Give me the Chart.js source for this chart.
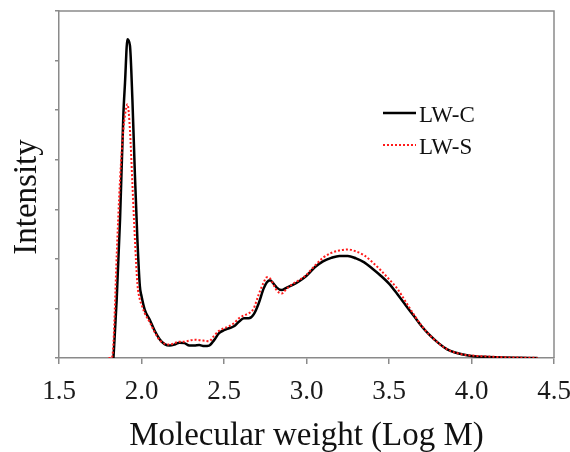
<!DOCTYPE html>
<html lang="en">
<head>
    <meta charset="UTF-8">
    <title>Molecular weight distribution</title>
    <script src="https://cdn.jsdelivr.net/npm/chart.js"></script>
    <style>
        body { margin: 0; background: #fff; }
        #wrap { width: 570px; height: 452px; }
    </style>
</head>
<body>
    <div id="wrap"><canvas id="mwChart" width="570" height="452"></canvas></div>
    <script>
        // Log M values shared by both curves
        const logM = [1.80, 1.82, 1.83, 1.85, 1.87, 1.89, 1.90, 1.915, 1.93, 1.945, 1.96, 1.975, 1.99, 2.00,
            2.02, 2.05, 2.08, 2.11, 2.14, 2.17, 2.20, 2.23, 2.26, 2.29, 2.32, 2.35, 2.38, 2.41, 2.44, 2.47,
            2.50, 2.53, 2.56, 2.59, 2.62, 2.65, 2.68, 2.71, 2.74, 2.76, 2.78, 2.80, 2.82, 2.85, 2.88, 2.92,
            2.96, 3.00, 3.05, 3.10, 3.15, 3.20, 3.25, 3.30, 3.35, 3.40, 3.45, 3.50, 3.55, 3.60, 3.65, 3.70,
            3.75, 3.80, 3.85, 3.90, 3.95, 4.00, 4.10, 4.20, 4.30, 4.40];

        const lwC = [null, null, 0, 1.2, 2.8, 4.9, 5.55, 6.43, 6.3, 5.2, 3.7, 2.4, 1.45, 1.25,
            0.97, 0.77, 0.55, 0.38, 0.28, 0.25, 0.27, 0.31, 0.30, 0.25, 0.25, 0.26, 0.24, 0.25, 0.36, 0.50,
            0.56, 0.60, 0.64, 0.73, 0.80, 0.80, 0.88, 1.10, 1.40, 1.53, 1.57, 1.50, 1.42, 1.37, 1.42, 1.48,
            1.56, 1.66, 1.83, 1.95, 2.02, 2.06, 2.06, 2.01, 1.93, 1.80, 1.66, 1.50, 1.29, 1.07, 0.85, 0.63,
            0.45, 0.30, 0.18, 0.11, 0.07, 0.04, 0.02, 0.01, 0.005, 0];

        const lwS = [0, 0, 0.3, 2.1, 3.6, 4.6, 4.9, 5.12, 4.6, 3.5, 2.4, 1.5, 1.18, 1.08,
            0.90, 0.72, 0.52, 0.36, 0.29, 0.27, 0.30, 0.33, 0.33, 0.35, 0.37, 0.36, 0.35, 0.34, 0.45, 0.55,
            0.60, 0.64, 0.70, 0.80, 0.86, 0.90, 1.00, 1.28, 1.52, 1.63, 1.60, 1.48, 1.36, 1.30, 1.40, 1.50,
            1.58, 1.68, 1.86, 2.02, 2.12, 2.17, 2.19, 2.15, 2.07, 1.93, 1.77, 1.59, 1.40, 1.14, 0.88, 0.64,
            0.45, 0.30, 0.18, 0.11, 0.07, 0.05, 0.03, 0.015, 0.007, 0.002];

        const xTicks = [1.5, 2.0, 2.5, 3.0, 3.5, 4.0, 4.5];

        const serif = "'Liberation Serif', 'DejaVu Serif', serif";
        const axisGray = '#8a8a8a';

        function toPoints(ys) {
            return logM.map((x, i) => ({ x: x, y: ys[i] }));
        }

        // frame on top/right, y title and legend inside the plot
        const framePlugin = {
            id: 'frame',
            afterDraw(chart) {
                const { ctx, chartArea: a } = chart;
                ctx.save();
                ctx.strokeStyle = axisGray;
                ctx.lineWidth = 1.5;
                ctx.beginPath();
                ctx.moveTo(a.left, a.top);
                ctx.lineTo(a.right, a.top);
                ctx.lineTo(a.right, a.bottom);
                ctx.stroke();

                // y axis title, sits a bit below centre like the original
                ctx.save();
                ctx.translate(36, 197);
                ctx.rotate(-Math.PI / 2);
                ctx.fillStyle = '#111';
                ctx.font = '33px ' + serif;
                ctx.textAlign = 'center';
                ctx.textBaseline = 'alphabetic';
                ctx.fillText('Intensity', 0, 0);
                ctx.restore();

                // legend
                const lx = 383, ly = 113, gap = 32;
                ctx.strokeStyle = '#000';
                ctx.lineWidth = 2.5;
                ctx.beginPath();
                ctx.moveTo(lx, ly);
                ctx.lineTo(lx + 33, ly);
                ctx.stroke();
                ctx.strokeStyle = '#ff1a1a';
                ctx.lineWidth = 2;
                ctx.setLineDash([2, 2]);
                ctx.beginPath();
                ctx.moveTo(lx, ly + gap);
                ctx.lineTo(lx + 33, ly + gap);
                ctx.stroke();
                ctx.setLineDash([]);
                ctx.fillStyle = '#111';
                ctx.font = '23px ' + serif;
                ctx.textBaseline = 'alphabetic';
                ctx.fillText('LW-C', lx + 36, ly + 9);
                ctx.fillText('LW-S', lx + 36, ly + gap + 9);
                ctx.restore();
            }
        };

        const ctx = document.getElementById('mwChart').getContext('2d');
        new Chart(ctx, {
            type: 'line',
            data: {
                datasets: [
                    {
                        label: 'LW-C',
                        data: toPoints(lwC),
                        borderColor: '#000',
                        borderWidth: 2.5,
                        pointRadius: 0,
                        cubicInterpolationMode: 'monotone',
                        order: 2
                    },
                    {
                        label: 'LW-S',
                        data: toPoints(lwS),
                        borderColor: '#ff1a1a',
                        borderWidth: 2,
                        borderDash: [2, 2],
                        pointRadius: 0,
                        cubicInterpolationMode: 'monotone',
                        order: 1
                    }
                ]
            },
            options: {
                responsive: false,
                animation: false,
                layout: { padding: { left: 0, right: 16, top: 11, bottom: 0 } },
                plugins: {
                    legend: { display: false },
                    tooltip: { enabled: false }
                },
                scales: {
                    x: {
                        type: 'linear',
                        min: 1.5,
                        max: 4.5,
                        afterBuildTicks: (scale) => { scale.ticks = xTicks.map(v => ({ value: v })); },
                        afterFit: (scale) => {
                            scale.height = 94;
                            // keep the last label from shrinking the plot
                            scale.paddingLeft = 0;
                            scale.paddingRight = 0;
                        },
                        ticks: {
                            callback: (v) => v.toFixed(1),
                            color: '#1a1a1a',
                            font: { family: serif, size: 27 },
                            padding: 12,
                            maxRotation: 0
                        },
                        grid: { drawOnChartArea: false, drawTicks: true, tickLength: 6, color: axisGray, lineWidth: 1.5 },
                        border: { color: axisGray, width: 1.5 },
                        title: {
                            display: true,
                            text: 'Molecular weight (Log M)',
                            color: '#111',
                            font: { family: serif, size: 33 },
                            padding: { top: 0, bottom: -4 }
                        }
                    },
                    y: {
                        min: 0,
                        max: 7,
                        ticks: { stepSize: 1, display: false },
                        afterFit: (scale) => { scale.width = 59; },
                        grid: { drawOnChartArea: false, drawTicks: true, tickLength: 4, color: axisGray, lineWidth: 1.5 },
                        border: { color: axisGray, width: 1.5 }
                    }
                }
            },
            plugins: [framePlugin]
        });
    </script>
</body>
</html>
